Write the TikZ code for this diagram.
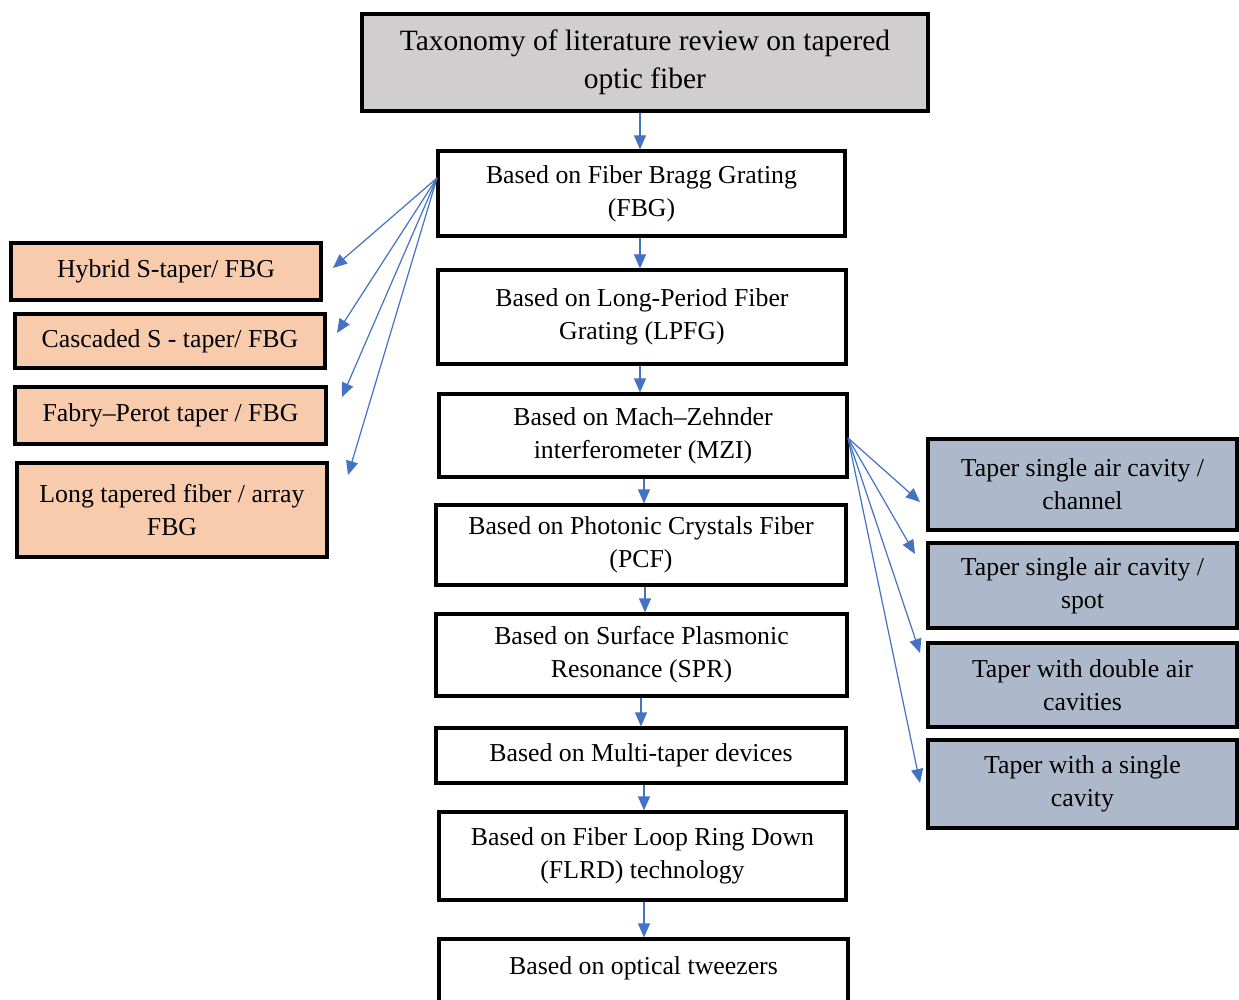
\documentclass[tikz,border=0pt]{standalone}
\usepackage{fontspec}
\setmainfont{Liberation Serif}
\usetikzlibrary{arrows.meta}
\definecolor{arrblue}{HTML}{4472C4}
\definecolor{titlegray}{HTML}{D0CECE}
\definecolor{peach}{HTML}{F8CBAD}
\definecolor{slate}{HTML}{ADB9CA}
\begin{document}
\begin{tikzpicture}[x=1pt,y=-1pt,
  box/.style={draw=black, line width=3.2pt, fill=white, align=center, inner sep=2pt,
    font=\fontsize{25.8}{33}\selectfont},
  titlebox/.style={box, fill=titlegray, font=\fontsize{29.5}{38}\selectfont},
  lbox/.style={box, fill=peach},
  rbox/.style={box, fill=slate},
  arr/.style={draw=arrblue, line width=1.2pt, -{Triangle[length=14pt,width=12pt]}}]
\clip (0,0) rectangle (1239,1000);
\fill[white] (0,0) rectangle (1239,1000);
% main column
\node[titlebox, minimum width=566pt, minimum height=97pt] (title) at (645,62.5) {Taxonomy of literature review on tapered\\optic fiber};
\node[box, minimum width=407pt, minimum height=85pt] (fbg) at (641.5,193.5) {Based on Fiber Bragg Grating\\(FBG)};
\node[box, minimum width=408pt, minimum height=94pt] (lpfg) at (642,317) {Based on Long-Period Fiber\\Grating (LPFG)};
\node[box, minimum width=408pt, minimum height=83pt] (mzi) at (643,435.5) {Based on Mach--Zehnder\\interferometer (MZI)};
\node[box, minimum width=410pt, minimum height=80pt] (pcf) at (641,545) {Based on Photonic Crystals Fiber\\(PCF)};
\node[box, minimum width=411pt, minimum height=82pt] (spr) at (641.5,655) {Based on Surface Plasmonic\\Resonance (SPR)};
\node[box, minimum width=410pt, minimum height=55pt] (multi) at (641,755.5) {Based on Multi-taper devices};
\node[box, minimum width=407pt, minimum height=88pt] (flrd) at (642.5,856) {Based on Fiber Loop Ring Down\\(FLRD) technology};
\node[box, minimum width=409pt, minimum height=82pt] (tw) at (643.5,980) {\raisebox{28pt}{Based on optical tweezers}};
% left column
\node[lbox, minimum width=310pt, minimum height=57pt] (hyb) at (166,271.5) {Hybrid S-taper/ FBG};
\node[lbox, minimum width=310pt, minimum height=54pt] (cas) at (170,341) {Cascaded S - taper/ FBG};
\node[lbox, minimum width=311pt, minimum height=57pt] (fab) at (170.5,415.5) {Fabry--Perot taper / FBG};
\node[lbox, minimum width=310pt, minimum height=94pt] (lng) at (172,510) {Long tapered fiber / array\\FBG};
% right column
\node[rbox, minimum width=309pt, minimum height=91pt] (r1) at (1082.5,484.5) {Taper single air cavity /\\channel};
\node[rbox, minimum width=309pt, minimum height=85pt] (r2) at (1082.5,585.5) {Taper single air cavity /\\spot};
\node[rbox, minimum width=309pt, minimum height=84pt] (r3) at (1082.5,685) {Taper with double air\\cavities};
\node[rbox, minimum width=309pt, minimum height=88pt] (r4) at (1082.5,784) {Taper with a single\\cavity};
% vertical arrows
\draw[arr] (title.south -| 640,0) -- (fbg.north -| 640,0);
\draw[arr] (fbg.south -| 640,0) -- (lpfg.north -| 640,0);
\draw[arr] (lpfg.south -| 640,0) -- (mzi.north -| 640,0);
\draw[arr] (mzi.south -| 644,0) -- (pcf.north -| 644,0);
\draw[arr] (pcf.south -| 645,0) -- (spr.north -| 645,0);
\draw[arr] (spr.south -| 641,0) -- (multi.north -| 641,0);
\draw[arr] (multi.south -| 644,0) -- (flrd.north -| 644,0);
\draw[arr] (flrd.south -| 644,0) -- (tw.north -| 644,0);
% left fan
\coordinate (ls) at (437,178);
\coordinate (l1) at (333,268);
\coordinate (l2) at (337,333);
\coordinate (l3) at (342,397);
\coordinate (l4) at (348,475);
\foreach \t in {l1,l2,l3,l4} \draw[arr] (ls) -- (\t);
% right fan
\coordinate (rs) at (848,438);
\coordinate (q1) at (920,502);
\coordinate (q2) at (915,554);
\coordinate (q3) at (920,653);
\coordinate (q4) at (920,783);
\foreach \t in {q1,q2,q3,q4} \draw[arr] (rs) -- (\t);
\end{tikzpicture}
\end{document}
